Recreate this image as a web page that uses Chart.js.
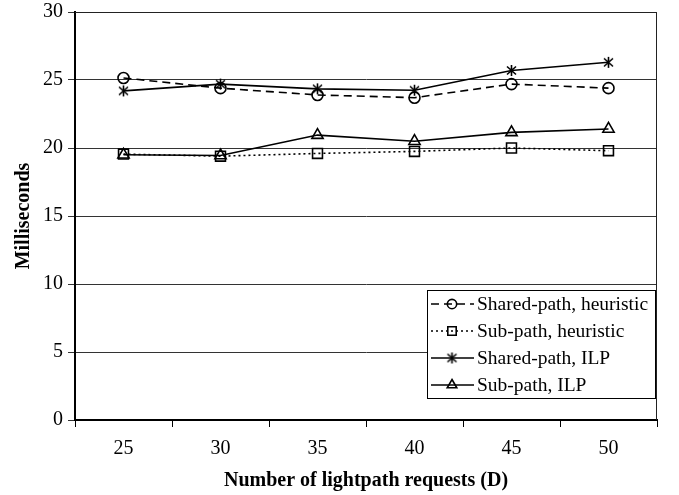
<!DOCTYPE html>
<html>
<head>
<meta charset="utf-8">
<script src="https://cdn.jsdelivr.net/npm/chart.js@4"></script>
<style>
  html, body { margin: 0; padding: 0; background: #fff; }
  #wrap { width: 679px; height: 495px; }
</style>
</head>
<body>
<div id="wrap"><canvas id="chart" width="679" height="495"></canvas></div>
<script>
// values
const requests = ["25", "30", "35", "40", "45", "50"];
const sharedHeuristic = [25.15, 24.4, 23.9, 23.7, 24.7, 24.4];
const subHeuristic = [19.55, 19.4, 19.6, 19.75, 20.0, 19.8];
const sharedIlp = [24.2, 24.7, 24.35, 24.25, 25.7, 26.3];
const subIlp = [19.5, 19.45, 20.95, 20.5, 21.15, 21.4];
const yTicks = [0, 5, 10, 15, 20, 25, 30];

const serif = "'Liberation Serif', 'Times New Roman', serif";

// asterisk marker: vertical bar plus an x
function asterisk() {
  const c = document.createElement("canvas");
  c.width = 13; c.height = 13;
  const g = c.getContext("2d");
  g.strokeStyle = "#000";
  g.lineWidth = 1.6;
  g.beginPath();
  g.moveTo(6.5, 1); g.lineTo(6.5, 12);
  g.moveTo(2, 2.5); g.lineTo(11, 10.5);
  g.moveTo(11, 2.5); g.lineTo(2, 10.5);
  g.stroke();
  return c;
}
const starMark = asterisk();

function series(label, data, style, radius, dash) {
  return {
    label: label,
    data: data,
    borderColor: "#000",
    borderWidth: 1.6,
    borderDash: dash,
    pointStyle: style,
    pointRadius: radius,
    pointBorderWidth: 1.6,
    pointBackgroundColor: "rgba(0,0,0,0)",
    pointBorderColor: "#000",
    tension: 0,
    fill: false
  };
}

// legend drawn inside the plot, lower right
const boxLegend = {
  id: "boxLegend",
  afterDatasetsDraw(chart) {
    const ctx = chart.ctx;
    const x0 = 427, y0 = 290, w = 228, h = 108, row = 27;
    ctx.save();
    ctx.fillStyle = "#fff";
    ctx.fillRect(x0, y0, w, h);
    ctx.strokeStyle = "#000";
    ctx.lineWidth = 1;
    ctx.strokeRect(x0 + 0.5, y0 + 0.5, w, h);
    chart.data.datasets.forEach((ds, i) => {
      const cy = y0 + 14 + i * row;
      ctx.strokeStyle = "#000";
      ctx.lineWidth = 1.6;
      ctx.setLineDash(ds.borderDash || []);
      ctx.beginPath();
      ctx.moveTo(x0 + 4, cy);
      ctx.lineTo(x0 + 47, cy);
      ctx.stroke();
      ctx.setLineDash([]);
      ctx.fillStyle = "rgba(0,0,0,0)";
      Chart.helpers.drawPoint(ctx, {
        pointStyle: ds.pointStyle, radius: ds.pointRadius * 0.85, borderWidth: 1.4, rotation: 0
      }, x0 + 25, cy);
      ctx.fillStyle = "#000";
      ctx.font = "19.5px " + serif;
      ctx.textBaseline = "middle";
      ctx.textAlign = "left";
      ctx.fillText(ds.label, x0 + 50, cy + 1);
    });
    ctx.restore();
  }
};

// thin frame on top and right of the plot
const frame = {
  id: "frame",
  beforeDatasetsDraw(chart) {
    const a = chart.chartArea;
    const ctx = chart.ctx;
    ctx.save();
    ctx.strokeStyle = "#222";
    ctx.lineWidth = 1;
    ctx.beginPath();
    ctx.moveTo(a.left, a.top + 0.5);
    ctx.lineTo(a.right - 0.5, a.top + 0.5);
    ctx.lineTo(a.right - 0.5, a.bottom);
    ctx.stroke();
    ctx.restore();
  }
};

new Chart(document.getElementById("chart"), {
  type: "line",
  data: {
    labels: requests,
    datasets: [
      series("Shared-path, heuristic", sharedHeuristic, "circle", 5.5, [8, 5]),
      series("Sub-path, heuristic", subHeuristic, "rect", 7, [2, 3]),
      series("Shared-path, ILP", sharedIlp, starMark, 6, []),
      series("Sub-path, ILP", subIlp, "triangle", 6.5, [])
    ]
  },
  options: {
    responsive: false,
    animation: false,
    layout: { padding: { top: 0, right: 22, left: 12, bottom: 0 } },
    plugins: {
      legend: { display: false },
      tooltip: { enabled: false }
    },
    scales: {
      x: {
        type: "category",
        offset: true,
        grid: {
          offset: true,
          drawOnChartArea: false,
          drawTicks: true,
          tickLength: 7,
          color: "#000"
        },
        border: { color: "#000", width: 2 },
        ticks: {
          color: "#000",
          font: { family: serif, size: 20 },
          padding: 10
        },
        title: {
          display: true,
          text: "Number of lightpath requests (D)",
          color: "#000",
          font: { family: serif, size: 20, weight: "bold" },
          padding: { top: 4, bottom: 2 }
        },
        afterFit(scale) { scale.height = 75; }
      },
      y: {
        min: 0,
        max: 30,
        afterBuildTicks(scale) { scale.ticks = yTicks.map(v => ({ value: v })); },
        grid: {
          color: "#333",
          lineWidth: 1,
          tickLength: 7,
          drawTicks: true
        },
        border: { color: "#000", width: 2 },
        ticks: {
          color: "#000",
          font: { family: serif, size: 20 },
          padding: 5
        },
        title: {
          display: true,
          text: "Milliseconds",
          color: "#000",
          font: { family: serif, size: 20, weight: "bold" },
          padding: { top: 0, bottom: 0 }
        },
        afterFit(scale) {
          scale.width = 63;
          scale.paddingTop = 12;
        }
      }
    }
  },
  plugins: [frame, boxLegend]
});
</script>
</body>
</html>
